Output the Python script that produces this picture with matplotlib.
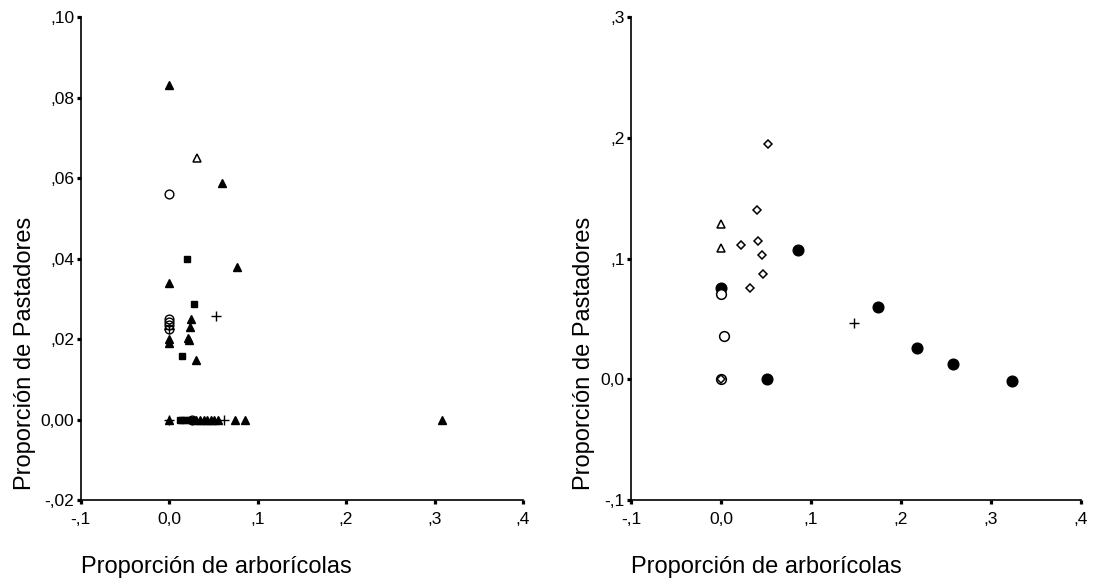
import matplotlib
matplotlib.use("Agg")
import matplotlib.pyplot as plt

plt.rcParams["font.family"] = ["Liberation Sans", "DejaVu Sans"]

# ------------------------------------------------------------------
# Left panel data (x = arboricolas, y = pastadores)
# ------------------------------------------------------------------
L_TRI_X = [0.0, 0.0596, 0.0766, 0.0, 0.025, 0.024, 0.021, 0.022, 0.030, 0.0, 0.0,
           0.0, 0.031, 0.035, 0.039, 0.043, 0.047, 0.051, 0.055, 0.074, 0.086, 0.309]
L_TRI_Y = [0.0832, 0.0588, 0.038, 0.034, 0.025, 0.0229, 0.0202, 0.0198, 0.0148, 0.020, 0.019,
           0.0, 0.0, 0.0, 0.0, 0.0, 0.0, 0.0, 0.0, 0.0, 0.0, 0.0]
L_OTRI_X = [0.032]
L_OTRI_Y = [0.065]
L_CIRC_X = [0.0, 0.0, 0.0, 0.0, 0.0, 0.026]
L_CIRC_Y = [0.056, 0.025, 0.0243, 0.0234, 0.0226, 0.0]
L_SQ_X = [0.0207, 0.028, 0.015, 0.012, 0.015, 0.018, 0.022, 0.026]
L_SQ_Y = [0.040, 0.0286, 0.0159, 0.0, 0.0, 0.0, 0.0, 0.0]
L_PLUS_X = [0.053, 0.0, 0.0, 0.062]
L_PLUS_Y = [0.0258, 0.0225, 0.0, 0.0]

L_XTICKS = [-0.1, 0.0, 0.1, 0.2, 0.3, 0.4]
L_XLABELS = ["-,1", "0,0", ",1", ",2", ",3", ",4"]
L_YTICKS = [-0.02, 0.0, 0.02, 0.04, 0.06, 0.08, 0.10]
L_YLABELS = ["-,02", "0,00", ",02", ",04", ",06", ",08", ",10"]

# ------------------------------------------------------------------
# Right panel data
# ------------------------------------------------------------------
R_OTRI_X = [0.0, 0.0]
R_OTRI_Y = [0.129, 0.1085]
R_DIA_X = [0.052, 0.040, 0.0226, 0.041, 0.045, 0.047, 0.0326, 0.0]
R_DIA_Y = [0.195, 0.140, 0.111, 0.1147, 0.1027, 0.087, 0.076, 0.0]
R_DOT_X = [0.085, 0.0, 0.174, 0.218, 0.258, 0.323, 0.051]
R_DOT_Y = [0.107, 0.076, 0.060, 0.0258, 0.0126, -0.0018, 0.0]
R_CIRC_X = [0.0, 0.003, 0.0]
R_CIRC_Y = [0.0706, 0.036, 0.0]
R_PLUS_X = [0.148]
R_PLUS_Y = [0.047]

R_XTICKS = [-0.1, 0.0, 0.1, 0.2, 0.3, 0.4]
R_XLABELS = ["-,1", "0,0", ",1", ",2", ",3", ",4"]
R_YTICKS = [-0.1, 0.0, 0.1, 0.2, 0.3]
R_YLABELS = ["-,1", "0,0", ",1", ",2", ",3"]

XLABEL = "Proporción de arborícolas"
YLABEL = "Proporción de Pastadores"


def style_axes(ax, xticks, xlabels, yticks, ylabels, ylab_x):
    ax.set_xlim(xticks[0], xticks[-1])
    ax.set_ylim(yticks[0], yticks[-1])
    for side in ("top", "right"):
        ax.spines[side].set_visible(False)
    for side in ("left", "bottom"):
        ax.spines[side].set_linewidth(1.2)
    ax.set_xticks(xticks)
    ax.set_xticklabels(xlabels)
    ax.set_yticks(yticks)
    ax.set_yticklabels(ylabels)
    ax.tick_params(axis="both", direction="out", length=2.6, width=2.3,
                   labelsize=12.5, color="black")
    ax.tick_params(axis="x", pad=6)
    ax.tick_params(axis="y", pad=2)
    # labels start at the axis origin, as in the original chart
    ax.set_xlabel(XLABEL, fontsize=17, loc="left", va="baseline")
    ax.xaxis.set_label_coords(0.0, -0.151)
    ax.set_ylabel(YLABEL, fontsize=17, loc="bottom")
    ax.yaxis.set_label_coords(ylab_x, 0.02)


fig = plt.figure(figsize=(10.99, 5.78), dpi=100)
ax_l = fig.add_axes([0.0733, 0.1349, 0.4026, 0.8356])
ax_r = fig.add_axes([0.5742, 0.1349, 0.4095, 0.8356])

# --- left panel ---
ax_l.plot(L_SQ_X, L_SQ_Y, "s", ms=3.8, color="black", ls="none")
ax_l.plot(L_TRI_X, L_TRI_Y, "^", ms=5.7, color="black", ls="none")
ax_l.plot(L_OTRI_X, L_OTRI_Y, "^", ms=6.0, mfc="white", mec="black", mew=1.1, ls="none")
ax_l.plot(L_CIRC_X, L_CIRC_Y, "o", ms=6.3, mfc="none", mec="black", mew=1.0, ls="none")
ax_l.plot(L_PLUS_X, L_PLUS_Y, "+", ms=7, color="black", mew=1.0, ls="none")
style_axes(ax_l, L_XTICKS, L_XLABELS, L_YTICKS, L_YLABELS, -0.1)

# --- right panel ---
ax_r.plot(R_DOT_X, R_DOT_Y, "o", ms=7.7, color="black", ls="none")
ax_r.plot(R_CIRC_X, R_CIRC_Y, "o", ms=7.0, mfc="white", mec="black", mew=1.1, ls="none")
ax_r.plot(R_DIA_X, R_DIA_Y, "D", ms=4.4, mfc="white", mec="black", mew=1.1, ls="none")
ax_r.plot(R_OTRI_X, R_OTRI_Y, "^", ms=5.8, mfc="white", mec="black", mew=1.1, ls="none")
ax_r.plot(R_PLUS_X, R_PLUS_Y, "+", ms=7, color="black", mew=1.0, ls="none")
style_axes(ax_r, R_XTICKS, R_XLABELS, R_YTICKS, R_YLABELS, -0.08)

for ax in (ax_l, ax_r):
    for line in ax.get_lines():
        line.set_clip_on(False)

fig.savefig("out.png", dpi=100)
